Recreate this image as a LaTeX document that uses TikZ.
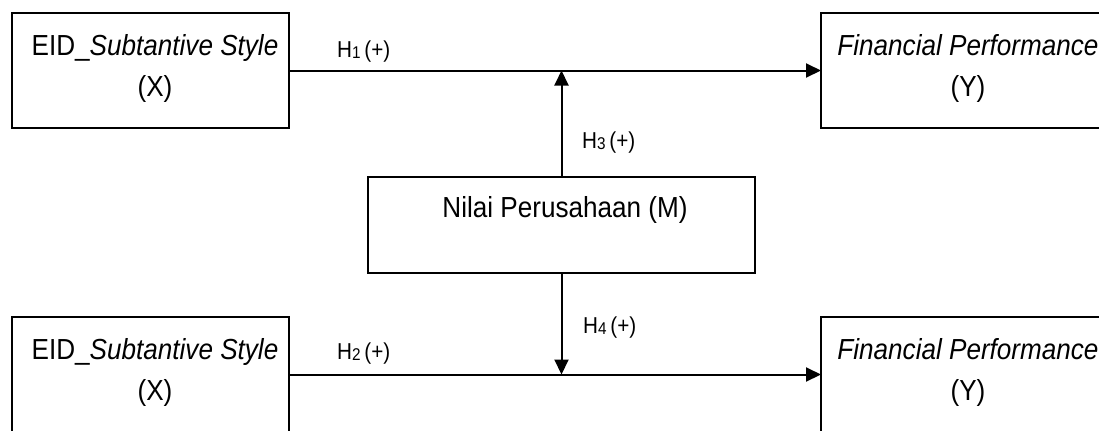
\documentclass[tikz,border=0pt]{standalone}
\usepackage{fontspec}
\setmainfont[FakeStretch=0.9]{Liberation Sans}
\usetikzlibrary{arrows.meta}

% hypothesis label with a lowered, smaller index
\newcommand\hyp[1]{H\raisebox{-1bp}{\fontsize{17bp}{17bp}\selectfont #1}\,(+)}

\tikzset{
  varbox/.style={draw=black, line width=2bp, inner sep=0pt, outer sep=0pt},
  % the base anchor of a two-line caption sits on its last line
  boxtext/.style={anchor=base, align=center, inner sep=0pt,
                  font=\fontsize{29bp}{41bp}\selectfont},
  hyplabel/.style={anchor=base west, inner sep=0pt,
                   font=\fontsize{23bp}{23bp}\selectfont},
  link/.style={line width=2bp, -{Triangle[length=15bp,width=14bp]}},
}

\begin{document}
\begin{tikzpicture}[x=1bp, y=-1bp]
  \useasboundingbox (0,0) rectangle (1099,430);
  \clip (0,0) rectangle (1099,430);

  % variable boxes
  \node[varbox, minimum width=277bp, minimum height=115bp] (x1) at (150.5,70.5) {};
  \node[varbox, minimum width=294bp, minimum height=115bp] (y1) at (968,70.5) {};
  \node[varbox, minimum width=387bp, minimum height=96bp]  (m)  at (561.5,225) {};
  \node[varbox, minimum width=277bp, minimum height=115bp] (x2) at (150.5,374.5) {};
  \node[varbox, minimum width=294bp, minimum height=115bp] (y2) at (968,374.5) {};

  % box captions
  \node[boxtext] (tx1) at (155,96)  {EID\_\textit{Subtantive Style}\\(X)};
  \node[boxtext] (ty1) at (968,96)  {\textit{Financial Performance}\\(Y)};
  \node[boxtext] (tm)  at (565,217) {Nilai Perusahaan (M)};
  \node[boxtext] (tx2) at (155,400) {EID\_\textit{Subtantive Style}\\(X)};
  \node[boxtext] (ty2) at (968,400) {\textit{Financial Performance}\\(Y)};

  % direct paths
  \draw[link] (x1.east) -- (y1.west);
  \draw[link] (x2.east) -- (y2.west);

  % moderating paths onto the direct paths
  \coordinate (j1) at (m.north |- x1.east);
  \coordinate (j2) at (m.south |- x2.east);
  \draw[link] (m.north) -- (j1);
  \draw[link] (m.south) -- (j2);

  % hypothesis labels
  \node[hyplabel] (h1) at (337,57)  {\hyp{1}};
  \node[hyplabel] (h2) at (337,359) {\hyp{2}};
  \node[hyplabel] (h3) at (582,148) {\hyp{3}};
  \node[hyplabel] (h4) at (583,333) {\hyp{4}};
\end{tikzpicture}
\end{document}
